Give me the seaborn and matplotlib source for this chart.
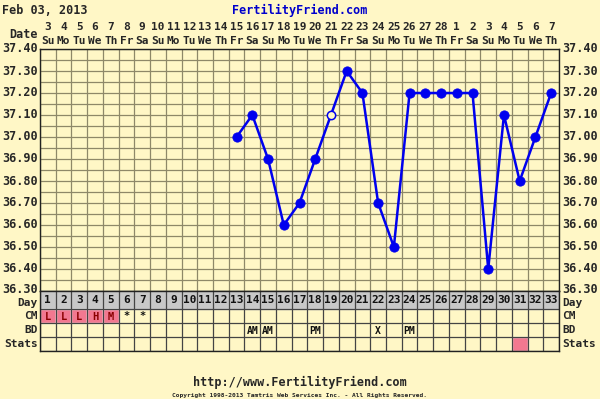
import numpy as np
import pandas as pd
import matplotlib
matplotlib.use("Agg")
import matplotlib.pyplot as plt
import seaborn as sns

# chart data
cycle_days = list(range(1, 34))
date_nums = [3, 4, 5, 6, 7, 8, 9, 10, 11, 12, 13, 14, 15, 16, 17, 18, 19, 20, 21,
             22, 23, 24, 25, 26, 27, 28, 1, 2, 3, 4, 5, 6, 7]
weekdays = ["Su", "Mo", "Tu", "We", "Th", "Fr", "Sa"] * 4 + ["Su", "Mo", "Tu", "We", "Th"]
temp_days = list(range(13, 34))
temps = [37.00, 37.10, 36.90, 36.60, 36.70, 36.90, 37.10, 37.30, 37.20, 36.70, 36.50,
         37.20, 37.20, 37.20, 37.20, 37.20, 36.40, 37.10, 36.80, 37.00, 37.20]
open_days = [19]
cm_days = [1, 2, 3, 4, 5, 6, 7]
cm_text = ["L", "L", "L", "H", "M", "*", "*"]
cm_pink = [1, 2, 3, 4, 5]
bd_days = [14, 15, 18, 22, 24]
bd_text = ["AM", "AM", "PM", "X", "PM"]
stats_pink = [31]
y_ticks = [37.40, 37.30, 37.20, 37.10, 37.00, 36.90, 36.80, 36.70, 36.60, 36.50, 36.40, 36.30]

BG = "#fff7c6"
GRID = "#8e8868"
BLUE = "#0000ee"
PINK = "#f27890"
W, H = 600, 399
FONT = "DejaVu Sans Mono"

sns.set_style("white")
plt.rcParams["font.family"] = [FONT]
plt.rcParams["font.weight"] = "bold"

fig = plt.figure(figsize=(6, 3.99), dpi=100, facecolor=BG)


def px_axes(x0, y0, x1, y1):
    return fig.add_axes([x0 / W, 1 - y1 / H, (x1 - x0) / W, (y1 - y0) / H])


def ftext(x, y, s, **kw):
    fig.text(x / W, 1 - y / H, s, fontfamily=FONT, fontweight="bold", **kw)


left, right, top, bottom = 40, 559, 49, 291

# temperature chart
ax = px_axes(left, top, right, bottom)
ax.set_facecolor(BG)
ax.set_xlim(0.5, 33.5)
ax.set_ylim(36.30, 37.40)
for x in np.arange(0.5, 34, 1):
    ax.axvline(x, color=GRID, lw=0.9, zorder=1)
for y in np.arange(36.30, 37.41, 0.05):
    ax.axhline(y, color=GRID, lw=0.9, zorder=1)

df = pd.DataFrame({"day": temp_days, "temp": temps})
df["open"] = df["day"].isin(open_days)
sns.lineplot(data=df, x="day", y="temp", color=BLUE, lw=1.8, ax=ax, zorder=3)
sns.scatterplot(data=df[~df["open"]], x="day", y="temp", color=BLUE, s=45,
                edgecolor=BLUE, ax=ax, zorder=4)
sns.scatterplot(data=df[df["open"]], x="day", y="temp", color=BG, s=36,
                edgecolor=BLUE, linewidth=1.1, ax=ax, zorder=4)
ax.set_xticks([])
ax.set_yticks([])
ax.set_xlabel("")
ax.set_ylabel("")
for s in ax.spines.values():
    s.set_color("#222222")
    s.set_linewidth(1)

# temperature labels
for t in y_ticks:
    ypx = top + (37.40 - t) / 1.10 * (bottom - top)
    if t == 36.30:
        ypx -= 1.5
    ftext(left - 2, ypx, f"{t:.2f}", ha="right", va="center", fontsize=8.5)
    ftext(right + 3, ypx, f"{t:.2f}", ha="left", va="center", fontsize=8.5)

# header with dates
col = (right - left) / 33
ftext(left - 2, 35, "Date", ha="right", va="center", fontsize=8.5)
for i, (d, wd) in enumerate(zip(date_nums, weekdays)):
    cx = left + (i + 0.5) * col
    ftext(cx, 27, str(d), ha="center", va="center", fontsize=8)
    ftext(cx, 41, wd, ha="center", va="center", fontsize=8)

# table rows below chart
rows = [("Day", 291, 309), ("CM", 309, 323), ("BD", 323, 337), ("Stats", 337, 351)]
tab = px_axes(left, 291, right, 351)
tab.set_facecolor(BG)
tab.set_xlim(0.5, 33.5)
tab.set_ylim(351, 291)
tab.axhspan(291, 309, color="#c8c8c8", zorder=0)
tab.bar(cm_pink, 14, bottom=309, width=1, color=PINK, zorder=1)
tab.bar(stats_pink, 14, bottom=337, width=1, color=PINK, zorder=1)
for x in np.arange(0.5, 34, 1):
    tab.axvline(x, color="#444444", lw=0.9, zorder=2)
for _, y0, y1 in rows:
    tab.axhline(y1, color="#444444", lw=0.9, zorder=2)
for d in cycle_days:
    tab.text(d, 300, str(d), ha="center", va="center", fontsize=8, color="#111111")
for d, s in zip(cm_days, cm_text):
    tab.text(d, 316.5, s, ha="center", va="center", fontsize=7.5,
             color="#8a0000" if d in cm_pink else "#111111")
for d, s in zip(bd_days, bd_text):
    tab.text(d, 330.5, s, ha="center", va="center", fontsize=7, color="#111111")
tab.set_xticks([])
tab.set_yticks([])
for s in tab.spines.values():
    s.set_color("#222222")
    s.set_linewidth(1)
for name, y0, y1 in rows:
    ycen = (y0 + y1) / 2 + (2.5 if name == "Day" else 0)
    ftext(left - 2, ycen, name, ha="right", va="center", fontsize=8)
    ftext(right + 3, ycen, name, ha="left", va="center", fontsize=8)

# titles and footer
ftext(2, 10, "Feb 03, 2013", ha="left", va="center", fontsize=8.5)
ftext(300, 10, "FertilityFriend.com", ha="center", va="center", fontsize=8.5, color="#0000cc")
ftext(300, 382, "http://www.FertilityFriend.com", ha="center", va="center", fontsize=8.5)
ftext(300, 395, "Copyright 1998-2013 Tamtris Web Services Inc. - All Rights Reserved.",
      ha="center", va="center", fontsize=4.5)

fig.savefig("out.png", dpi=100, facecolor=BG)
